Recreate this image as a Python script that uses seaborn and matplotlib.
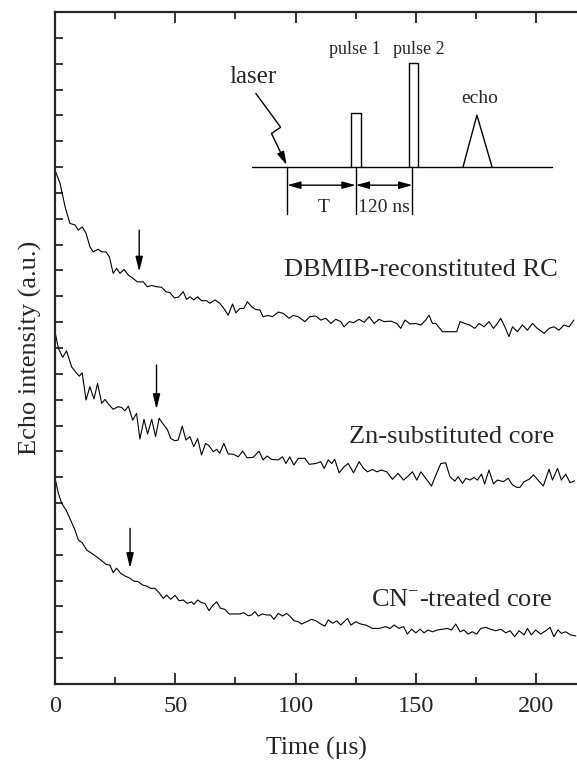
import numpy as np
import pandas as pd
import matplotlib
matplotlib.use("Agg")
import matplotlib.pyplot as plt
import seaborn as sns

# ---------------- data ----------------
dbmib_t = [0, 2.1, 4.2, 6.2, 8.3, 9.7, 11.3, 12.9, 14.5, 15.9, 18.0, 19.4, 21.2, 22.6, 24.2, 25.6, 27.0, 28.7,
           30.5, 32.5, 34.2, 36.7, 38.4, 40.2, 42.2, 44.3, 46.1, 47.8, 49.6, 51.2, 53.3, 54.7, 56.1, 57.7, 59.3,
           60.9, 63.0, 64.4, 66.5, 68.5, 70.2, 72.0, 73.8, 75.2, 76.9, 78.5, 80.0, 81.7, 83.4, 85.2, 86.5, 88.6,
           90.4, 92.8, 94.9, 97.3, 99.0, 101.1, 103.9, 105.9, 108.4, 110.5, 112.6, 114.7, 116.7, 118.8, 120.2,
           122.3, 124.1, 126.4, 128.5, 130.6, 132.7, 134.7, 136.8, 139.6, 142.1, 143.7, 145.5, 147.6, 150.0,
           152.1, 154.1, 155.5, 156.9, 158.3, 161.1, 164.5, 167.0, 168.4, 170.3, 172.4, 174.5, 176.3, 178.4,
           180.4, 182.3, 183.9, 185.3, 187.0, 188.7, 190.2, 192.2, 194.3, 196.4, 198.5, 200.5, 203.3, 205.4,
           207.4, 209.5, 211.6, 213.7, 215.7]
dbmib_y = [19.88, 19.37, 18.46, 17.82, 17.76, 17.56, 17.69, 17.44, 16.92, 16.72, 16.82, 16.72, 16.72, 16.53,
           15.89, 16.08, 15.89, 16.04, 15.82, 15.69, 15.56, 15.56, 15.37, 15.42, 15.37, 15.35, 15.18, 15.14,
           14.94, 14.96, 15.18, 14.88, 14.98, 14.86, 14.98, 14.83, 14.83, 14.73, 14.86, 14.73, 14.53, 14.27,
           14.70, 14.36, 14.53, 14.53, 14.79, 14.60, 14.49, 14.47, 14.21, 14.26, 14.21, 14.39, 14.34, 14.15,
           14.26, 14.21, 14.02, 14.21, 14.24, 14.08, 14.15, 13.95, 14.11, 14.02, 13.82, 14.02, 13.98, 14.11,
           13.99, 14.21, 13.95, 14.11, 14.02, 14.04, 13.95, 13.76, 14.08, 13.93, 13.95, 13.89, 14.08, 14.27,
           13.95, 13.95, 13.63, 13.63, 13.63, 14.02, 13.95, 13.89, 13.76, 13.95, 13.82, 14.02, 13.76, 13.95,
           14.15, 13.82, 13.44, 13.82, 13.63, 13.89, 13.69, 13.95, 13.76, 13.57, 13.76, 13.82, 13.69, 13.89,
           13.82, 14.08]

zn_t = [0, 1.4, 3.2, 4.8, 6.9, 9.0, 10.1, 11.3, 12.9, 14.5, 16.2, 17.7, 19.4, 20.8, 22.6, 24.2, 26.3, 27.7,
        29.1, 30.5, 32.3, 33.9, 35.3, 37.0, 38.5, 40.2, 41.8, 43.3, 45.0, 46.7, 48.1, 49.9, 51.2, 52.9, 54.4,
        56.1, 57.7, 59.3, 60.9, 62.6, 64.1, 65.8, 67.2, 68.5, 70.2, 72.0, 74.1, 76.2, 78.0, 79.9, 82.4, 84.8,
        86.5, 88.2, 90.0, 92.8, 94.6, 96.0, 97.6, 99.3, 101.1, 103.9, 105.7, 108.4, 110.5, 111.9, 113.6, 115.0,
        116.3, 118.1, 120.2, 121.9, 124.1, 126.4, 128.3, 129.9, 132.0, 133.8, 135.7, 137.9, 140.3, 142.6,
        144.9, 146.5, 148.6, 150.4, 152.1, 154.1, 156.5, 158.3, 160.4, 162.4, 164.2, 166.2, 167.6, 169.4,
        170.8, 172.5, 174.2, 175.6, 177.3, 178.6, 180.4, 182.3, 183.9, 186.4, 188.4, 190.2, 191.9, 193.3,
        195.0, 197.1, 198.9, 200.8, 203.0, 205.4, 206.8, 208.9, 210.5, 212.3, 214.1, 216.0]
zn_y = [13.63, 12.99, 12.64, 12.89, 12.27, 12.02, 11.91, 12.04, 10.99, 11.50, 11.03, 11.63, 10.86, 11.01,
        10.79, 10.63, 10.73, 10.70, 10.57, 10.75, 10.21, 10.47, 9.48, 10.24, 9.67, 10.24, 9.57, 10.28, 10.05,
        9.85, 9.50, 9.41, 9.44, 9.98, 9.44, 9.57, 9.18, 9.50, 8.86, 9.31, 9.21, 8.99, 9.08, 8.93, 9.31, 8.90,
        8.89, 8.79, 9.01, 8.75, 8.77, 9.01, 8.67, 8.82, 8.69, 8.67, 8.79, 8.53, 8.79, 8.47, 8.73, 8.73, 8.50,
        8.53, 8.60, 8.34, 8.67, 8.53, 8.69, 8.17, 8.41, 8.53, 8.17, 8.60, 8.34, 8.21, 8.30, 8.21, 8.28, 8.21,
        7.92, 8.15, 7.89, 8.02, 8.21, 7.89, 8.21, 7.96, 7.66, 8.08, 8.53, 8.56, 8.02, 7.85, 8.02, 7.76, 7.96,
        7.89, 7.99, 7.89, 8.12, 7.74, 8.28, 7.74, 7.89, 7.83, 7.96, 7.70, 7.61, 7.61, 7.83, 7.92, 8.09, 7.89,
        7.66, 8.31, 7.89, 8.34, 7.89, 8.12, 7.79, 7.86]

cn_t = [0, 1.4, 2.8, 4.6, 6.5, 8.3, 9.7, 11.3, 13.2, 15.2, 17.3, 19.4, 21.2, 22.8, 24.2, 25.6, 27.3, 29.1,
        31.2, 32.8, 34.6, 36.4, 38.1, 39.8, 41.5, 43.3, 45.0, 46.4, 48.1, 49.9, 51.6, 53.3, 55.0, 56.8, 57.7,
        59.3, 60.9, 62.3, 64.0, 65.8, 67.2, 68.8, 70.6, 72.4, 74.8, 76.9, 78.5, 80.3, 81.7, 83.1, 84.5, 86.3,
        88.0, 89.6, 91.0, 92.8, 94.6, 96.3, 97.6, 99.3, 101.1, 102.5, 104.6, 106.6, 108.4, 110.5, 112.2, 113.6,
        115.4, 117.2, 118.8, 120.2, 121.6, 123.0, 125.1, 127.1, 129.2, 132.0, 134.7, 137.5, 139.3, 141.0,
        143.0, 144.9, 146.5, 148.2, 150.0, 151.8, 153.4, 155.1, 156.9, 159.0, 161.1, 163.1, 164.8, 166.6,
        168.4, 170.0, 171.7, 173.5, 175.3, 177.0, 179.1, 181.1, 183.2, 185.3, 187.4, 189.2, 191.1, 192.9,
        195.0, 196.4, 198.0, 199.8, 201.9, 204.0, 205.8, 207.4, 209.1, 210.5, 212.3, 214.4, 216.5]
cn_y = [7.96, 7.38, 6.99, 6.73, 6.34, 5.96, 5.57, 5.47, 5.18, 5.06, 4.92, 4.77, 4.63, 4.60, 4.31, 4.48, 4.28,
        4.18, 4.09, 3.98, 3.96, 3.83, 3.79, 3.70, 3.70, 3.53, 3.31, 3.44, 3.28, 3.43, 3.22, 3.25, 3.12, 3.18,
        3.08, 3.25, 3.15, 3.12, 2.84, 3.06, 3.18, 2.93, 2.89, 2.71, 2.71, 2.71, 2.76, 2.64, 2.67, 2.80, 2.63,
        2.71, 2.67, 2.67, 2.50, 2.73, 2.63, 2.73, 2.63, 2.45, 2.41, 2.32, 2.41, 2.50, 2.45, 2.32, 2.24, 2.48,
        2.35, 2.44, 2.28, 2.41, 2.54, 2.28, 2.41, 2.32, 2.28, 2.15, 2.15, 2.22, 2.15, 2.28, 2.15, 2.22, 1.93,
        2.12, 1.98, 2.12, 1.98, 2.09, 2.02, 2.09, 2.12, 2.15, 2.09, 2.32, 2.02, 2.09, 1.93, 2.02, 1.93, 2.15,
        2.19, 2.12, 2.06, 2.12, 1.98, 2.06, 1.83, 2.06, 1.90, 2.15, 1.90, 2.09, 1.93, 2.06, 2.19, 1.83, 2.09,
        1.96, 2.02, 1.90, 1.86]

sample_names = ["DBMIB-reconstituted RC", "Zn-substituted core", r"CN$^{\mathregular{-}}$-treated core"]
label_x = [152.0, 164.8, 169.0]
label_y = [16.0, 9.57, 3.2]
arrow_t = [35.0, 42.2, 31.2]          # marked times (down arrows)
arrow_top = [17.56, 12.34, 6.02]
arrow_tip = [15.95, 10.63, 4.48]

x_ticks = [0, 50, 100, 150, 200]

# pulse-sequence schematic (data units)
seq_baseline = [81.7, 206.4]
seq_level = 20.0
laser_t = 96.5
pulse1 = [123.0, 127.0, 22.08]
pulse2 = [147.1, 150.9, 24.01]
echo_tri = [169.6, 175.4, 181.7, 22.01]
marker_bottom = 18.2
arrow_level = 19.3
pulse_sep = [125.0, 148.6]

# ---------------- style ----------------
sns.set_style("ticks")
plt.rcParams["font.family"] = ["Liberation Serif", "DejaVu Serif"]
plt.rcParams["mathtext.fontset"] = "custom"
plt.rcParams["mathtext.rm"] = "Liberation Serif"

fig = plt.figure(figsize=(5.77, 7.65), dpi=100)
ax = fig.add_axes([55 / 577, 1 - 684 / 765, 1 - 55 / 577, (684 - 12) / 765])

frames = []
for name, t, y in [("a", dbmib_t, dbmib_y), ("b", zn_t, zn_y), ("c", cn_t, cn_y)]:
    assert len(t) == len(y), (name, len(t), len(y))
    frames.append(pd.DataFrame({"time": t, "intensity": y, "sample": name}))
df = pd.concat(frames, ignore_index=True)

sns.lineplot(data=df, x="time", y="intensity", hue="sample", units="sample", estimator=None,
             sort=False, palette=["black"] * 3, linewidth=0.8, legend=False, ax=ax)

ax.set_xlim(0, 217)
ax.set_ylim(0, 26)
ax.set_xticks(x_ticks)
ax.set_xticks(np.arange(25, 217, 50), minor=True)
ax.set_yticks(np.arange(1, 26, 1))
ax.set_yticklabels([])
ax.tick_params(axis="x", which="major", direction="in", length=8, width=1.3, top=True, labelsize=17.5, pad=9)
ax.tick_params(axis="x", which="minor", direction="in", length=5, width=1.3, top=True)
ax.tick_params(axis="y", which="major", direction="in", length=6, width=1.3, left=True, right=False)
for s in ["left", "bottom", "top"]:
    ax.spines[s].set_linewidth(1.6)
ax.spines["right"].set_visible(False)
ax.set_xlabel("Time (\u03bcs)", fontsize=18.5, labelpad=14)
ax.set_ylabel("Echo intensity (a.u.)", fontsize=19, labelpad=6)

for name, lx, ly in zip(sample_names, label_x, label_y):
    ax.text(lx, ly, name, fontsize=19, ha="center", va="center")

for at, top, tip in zip(arrow_t, arrow_top, arrow_tip):
    ax.annotate("", xy=(at, tip), xytext=(at, top),
                arrowprops=dict(arrowstyle="-|>,head_length=0.9,head_width=0.22", color="black", lw=1.0,
                                shrinkA=0, shrinkB=0))

# schematic
lw = 1.0
ax.plot(seq_baseline, [seq_level, seq_level], color="black", lw=lw)
ax.plot([laser_t, laser_t], [seq_level, marker_bottom], color="black", lw=lw)
for p in (pulse1, pulse2):
    ax.plot([p[0], p[0], p[1], p[1]], [seq_level, p[2], p[2], seq_level], color="black", lw=lw)
ax.plot([echo_tri[0], echo_tri[1], echo_tri[2]], [seq_level, echo_tri[3], seq_level], color="black", lw=lw)
for sx in pulse_sep:
    ax.plot([sx, sx], [seq_level, marker_bottom], color="black", lw=lw)
dbl = dict(arrowstyle="<|-|>,head_length=0.8,head_width=0.22", color="black", lw=1.0, shrinkA=0, shrinkB=0)
ax.annotate("", xy=(laser_t, arrow_level), xytext=(pulse_sep[0], arrow_level), arrowprops=dbl)
ax.annotate("", xy=(pulse_sep[0], arrow_level), xytext=(pulse_sep[1], arrow_level), arrowprops=dbl)
# laser lightning arrow
ax.plot([83.5, 93.8, 90.0], [22.85, 21.54, 21.30], color="black", lw=lw)
ax.annotate("", xy=(96.3, 20.08), xytext=(90.0, 21.30),
            arrowprops=dict(arrowstyle="-|>,head_length=0.8,head_width=0.22", color="black", lw=1.0,
                            shrinkA=0, shrinkB=0))
ax.text(82.3, 23.5, "laser", fontsize=18, ha="center", va="center")
ax.text(124.6, 24.53, "pulse 1", fontsize=13, ha="center", va="center")
ax.text(151.3, 24.53, "pulse 2", fontsize=13, ha="center", va="center")
ax.text(176.6, 22.66, "echo", fontsize=14, ha="center", va="center")
ax.text(111.5, 18.42, "T", fontsize=14, ha="center", va="center")
ax.text(136.6, 18.42, "120 ns", fontsize=14, ha="center", va="center")

fig.savefig("out.png", dpi=100)
